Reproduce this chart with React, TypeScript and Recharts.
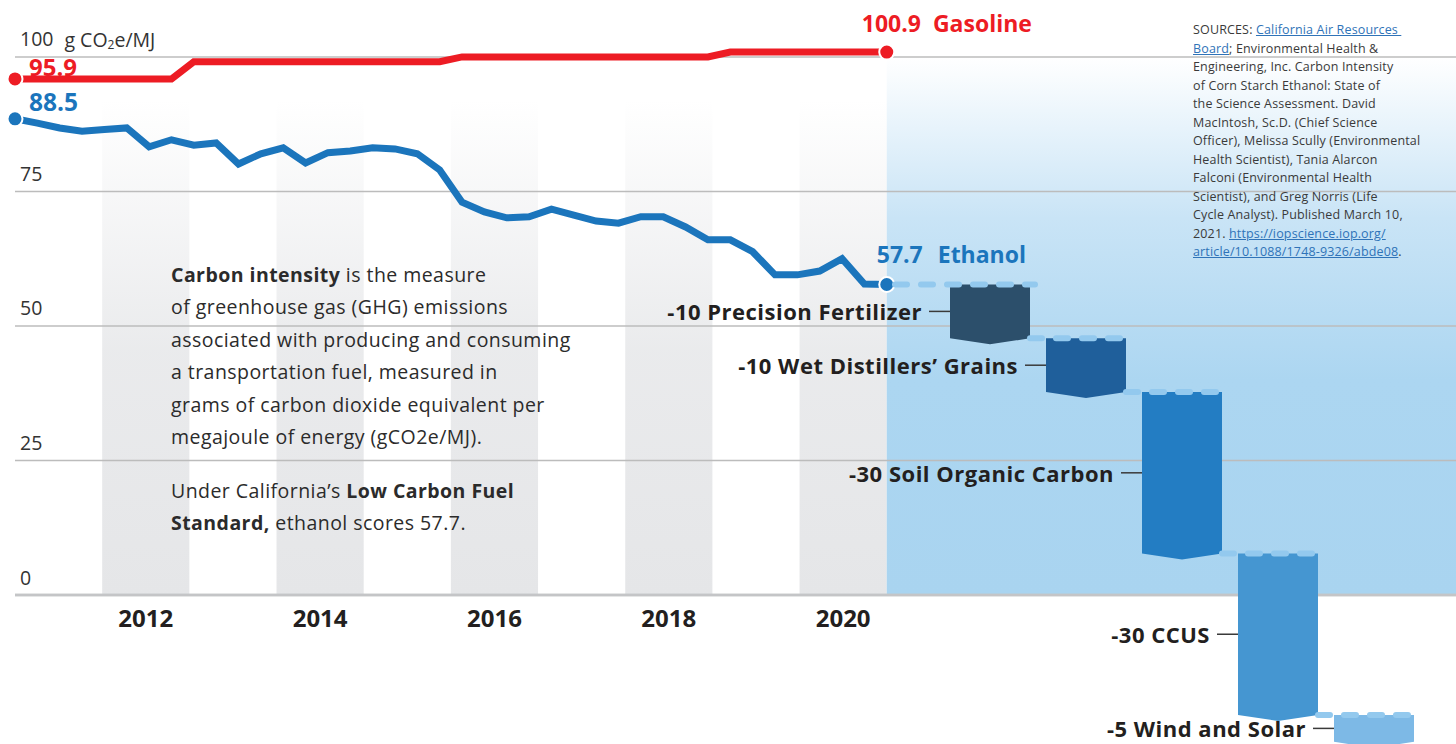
import React from 'react';
import {
  ComposedChart,
  BarChart,
  Line,
  Bar,
  XAxis,
  YAxis,
  ReferenceArea,
  ReferenceLine,
} from 'recharts';

const W = 1456;
const H = 744;
const FONT = '"Open Sans", "Noto Sans", sans-serif';
const DARK = '#231f20';
const RED = '#ed1c24';
const BLUE = '#1b75bc';

// ---- time series (g CO2e/MJ) ----
const startYear = 2010.5;
const endYear = 2020.5;
const ethanol = [
  88.5, 87.7, 86.8, 86.2, 86.5, 86.8, 83.3, 84.6, 83.6, 84.0,
  80.1, 82.0, 83.1, 80.3, 82.2, 82.5, 83.1, 82.9, 82.0, 79.0,
  73.0, 71.2, 70.1, 70.3, 71.7, 70.6, 69.5, 69.1, 70.3, 70.3,
  68.4, 66.0, 66.0, 63.8, 59.5, 59.5, 60.2, 62.5, 57.8, 57.7,
];
const gasoline = [
  95.9, 95.9, 95.9, 95.9, 95.9, 95.9, 95.9, 95.9, 99.1, 99.1,
  99.1, 99.1, 99.1, 99.1, 99.1, 99.1, 99.1, 99.1, 99.1, 99.1,
  100.0, 100.0, 100.0, 100.0, 100.0, 100.0, 100.0, 100.0, 100.0, 100.0,
  100.0, 100.0, 100.9, 100.9, 100.9, 100.9, 100.9, 100.9, 100.9, 100.9,
];
const yearTicks = [2012, 2014, 2016, 2018, 2020];
const shadedYears = [2012, 2014, 2016, 2018, 2020];
const yTicks = [0, 25, 50, 75, 100];
const xMax = 2027.03;

// ---- waterfall ----
const ethanolScore = 57.7;
const steps = ['Precision Fertilizer', 'Wet Distillers\u2019 Grains', 'Soil Organic Carbon', 'CCUS', 'Wind and Solar'];
const deltas = [-10, -10, -30, -30, -5];
const stepColors = ['#2c4f6b', '#1f5f9b', '#237dc3', '#4596d1', '#7db9e6'];

const lineRows = ethanol.map((v, i) => ({
  t: startYear + (i * (endYear - startYear)) / (ethanol.length - 1),
  ethanol: v,
  gasoline: gasoline[i],
}));

let running = ethanolScore;
const wfRows = steps.map((name, i) => {
  const high = running;
  const low = running + deltas[i];
  running = low;
  return { name, delta: deltas[i], range: [low, high] };
});

const n = ethanol.length;

const EthanolDot = (p: any) => {
  const { cx, cy, index } = p;
  if (index !== 0 && index !== n - 1) return <g key={`ed${index}`} />;
  return (
    <g key={`ed${index}`}>
      <circle cx={cx} cy={cy} r={7.5} fill={BLUE} stroke="#fff" strokeWidth={2} />
      {index === 0 ? (
        <text x={cx + 14} y={cy - 8} fill={BLUE} fontFamily={FONT} fontWeight={700} fontSize={24.5}>
          {ethanol[0].toFixed(1)}
        </text>
      ) : (
        <text x={cx - 10} y={cy - 31} fill={BLUE} fontFamily={FONT} fontWeight={700} fontSize={23} dominantBaseline="central">
          {ethanol[n - 1].toFixed(1)}
          <tspan dx={15}>Ethanol</tspan>
        </text>
      )}
    </g>
  );
};

const GasDot = (p: any) => {
  const { cx, cy, index } = p;
  if (index !== 0 && index !== n - 1) return <g key={`gd${index}`} />;
  return (
    <g key={`gd${index}`}>
      <circle cx={cx} cy={cy} r={7.5} fill={RED} stroke="#fff" strokeWidth={2} />
      {index === 0 ? (
        <text x={cx + 14} y={cy - 3} fill={RED} fontFamily={FONT} fontWeight={700} fontSize={24}>
          {gasoline[0].toFixed(1)}
        </text>
      ) : (
        <text x={cx - 25} y={cy - 29} fill={RED} fontFamily={FONT} fontWeight={700} fontSize={23} dominantBaseline="central">
          {gasoline[n - 1].toFixed(1)}
          <tspan dx={12}>Gasoline</tspan>
        </text>
      )}
    </g>
  );
};

const GridLabel = (p: any) => {
  const vb = p.viewBox || {};
  const v = p.value;
  return (
    <text x={20} y={(vb.y ?? 0) - 18} fill="#333" fontFamily={FONT} fontSize={19.5} dominantBaseline="central">
      {v}
      {v === 100 ? (
        <>
          <tspan dx={11} fontSize={19.5}>g CO</tspan>
          <tspan fontSize={12} dy={5}>2</tspan>
          <tspan fontSize={19.5} dy={-5}>e/MJ</tspan>
        </>
      ) : null}
    </text>
  );
};

const XTick = (p: any) => {
  const { x, payload } = p;
  return (
    <text x={x} y={617} textAnchor="middle" dominantBaseline="central" fill={DARK} fontFamily={FONT} fontWeight={700} fontSize={24}>
      {payload.value}
    </text>
  );
};

const StepShape = (p: any) => {
  const { x, y, width, height, index } = p;
  const v = 6;
  const bottom = y + height;
  const pts = `${x},${y} ${x + width},${y} ${x + width},${bottom} ${x + width / 2},${bottom + v} ${x},${bottom}`;
  const dashStart = index === 0 ? x - 55 : x - 16;
  const cy = y + height / 2;
  const row = wfRows[index];
  return (
    <g key={`step${index}`}>
      <polygon points={pts} fill={stepColors[index]} />
      <line x1={dashStart} y1={y} x2={x + width + 5} y2={y} stroke="#93c9ee" strokeWidth={6} strokeLinecap="round" strokeDasharray="12 14" />
      <text
        x={x - 28}
        y={cy}
        textAnchor="end"
        dominantBaseline="central"
        fill={DARK}
        fontFamily={FONT}
        fontWeight={700}
        fontSize={22}
        letterSpacing={0.5}
      >
        {`${row.delta} ${row.name}`}
      </text>
      <line x1={x - 21} x2={x} y1={cy} y2={cy} stroke="#3a3a3a" strokeWidth={1.5} />
    </g>
  );
};

const textBlock: React.CSSProperties = {
  position: 'absolute',
  left: 171,
  top: 259,
  fontFamily: FONT,
  fontSize: 19.5,
  letterSpacing: 0.45,
  lineHeight: '32.4px',
  color: '#2b2b2b',
  whiteSpace: 'pre',
};

const sourceStyle: React.CSSProperties = {
  position: 'absolute',
  left: 1193,
  top: 21,
  fontFamily: FONT,
  fontSize: 12.5,
  letterSpacing: 0.15,
  lineHeight: '18.5px',
  color: '#3a3a3a',
  whiteSpace: 'pre',
};
const link: React.CSSProperties = { color: '#2f73b8', textDecoration: 'underline' };

export default function App() {
  return (
    <div style={{ position: 'absolute', left: 0, top: 0, width: W, height: H, background: '#fff', overflow: 'hidden' }}>
      <div style={{ position: 'absolute', left: 0, top: 0 }}>
        <ComposedChart width={W} height={H} data={lineRows} margin={{ top: 30, right: 0, bottom: 109, left: 15 }}>
          <defs>
            <linearGradient id="bandGrad" x1="0" y1="0" x2="0" y2="1">
              <stop offset="0" stopColor="#e6e7e9" stopOpacity={0} />
              <stop offset="0.08" stopColor="#e6e7e9" stopOpacity={0} />
              <stop offset="0.55" stopColor="#e6e7e9" stopOpacity={0.85} />
              <stop offset="1" stopColor="#e5e6e8" stopOpacity={1} />
            </linearGradient>
            <linearGradient id="blueGrad" x1="0" y1="0" x2="0" y2="1">
              <stop offset="0" stopColor="#ffffff" stopOpacity={1} />
              <stop offset="0.3" stopColor="#c9e4f6" stopOpacity={1} />
              <stop offset="0.6" stopColor="#acd6f1" stopOpacity={1} />
              <stop offset="1" stopColor="#a9d4f0" stopOpacity={1} />
            </linearGradient>
          </defs>
          <XAxis
            type="number"
            dataKey="t"
            domain={[startYear, xMax]}
            ticks={yearTicks}
            height={40}
            tick={<XTick />}
            tickLine={false}
            axisLine={{ stroke: '#c4c5c7', strokeWidth: 2.5 }}
          />
          <YAxis domain={[0, 105]} ticks={yTicks} width={0} axisLine={false} tickLine={false} tick={false} />
          {shadedYears.map((yr) => (
            <ReferenceArea key={yr} x1={yr - 0.5} x2={yr + 0.5} y1={0} y2={100} fill="url(#bandGrad)" fillOpacity={1} stroke="none" />
          ))}
          <ReferenceArea x1={endYear} x2={xMax} y1={0} y2={100} fill="url(#blueGrad)" fillOpacity={1} stroke="none" />
          {yTicks.map((v) => (
            <ReferenceLine
              key={v}
              y={v}
              stroke={v === 0 ? '#c4c5c7' : '#bcbcbc'}
              strokeWidth={v === 0 ? 2.5 : 1.5}
              label={<GridLabel value={v} />}
            />
          ))}
          <Line type="linear" dataKey="gasoline" stroke={RED} strokeWidth={7} dot={<GasDot />} activeDot={false} isAnimationActive={false} />
          <Line type="linear" dataKey="ethanol" stroke={BLUE} strokeWidth={7} dot={<EthanolDot />} activeDot={false} isAnimationActive={false} />
        </ComposedChart>
      </div>
      <div style={textBlock}>
        <b>Carbon intensity</b>{' is the measure\n'}
        {'of greenhouse gas (GHG) emissions\n'}
        {'associated with producing and consuming\n'}
        {'a transportation fuel, measured in\n'}
        {'grams of carbon dioxide equivalent per\n'}
        {'megajoule of energy (gCO2e/MJ).'}
        <div style={{ height: 21.6 }} />
        {'Under California\u2019s '}<b>Low Carbon Fuel</b>{'\n'}
        <b>Standard,</b>{' ethanol scores 57.7.'}
      </div>
      <div style={sourceStyle}>
        {'SOURCES: '}<span style={link}>{'California Air Resources '}</span>{'\n'}
        <span style={link}>Board</span>{'; Environmental Health &\n'}
        {'Engineering, Inc. Carbon Intensity\n'}
        {'of Corn Starch Ethanol: State of\n'}
        {'the Science Assessment. David\n'}
        {'MacIntosh, Sc.D. (Chief Science\n'}
        {'Officer), Melissa Scully (Environmental\n'}
        {'Health Scientist), Tania Alarcon\n'}
        {'Falconi (Environmental Health\n'}
        {'Scientist), and Greg Norris (Life\n'}
        {'Cycle Analyst). Published March 10,\n'}
        {'2021. '}<span style={link}>{'https://iopscience.iop.org/'}</span>{'\n'}
        <span style={link}>{'article/10.1088/1748-9326/abde08'}</span>{'.'}
      </div>
      <div style={{ position: 'absolute', left: 0, top: 0 }}>
        <BarChart width={W} height={H} data={wfRows} margin={{ top: 30, right: 34, bottom: 0, left: 942 }}>
          <XAxis dataKey="name" hide />
          <YAxis domain={[-27.7, 105]} hide width={0} />
          <Bar dataKey="range" barSize={80} shape={<StepShape />} isAnimationActive={false} />
        </BarChart>
      </div>
    </div>
  );
}
